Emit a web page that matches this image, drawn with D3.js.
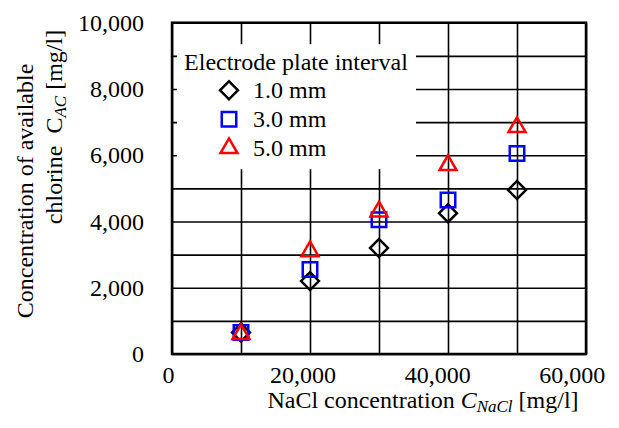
<!DOCTYPE html>
<html>
<head>
<meta charset="utf-8">
<script src="https://cdn.jsdelivr.net/npm/d3@7"></script>
<style>
  body { margin: 0; background: #fff; }
  text { font-family: "Liberation Serif", "Times New Roman", serif; }
</style>
</head>
<body>
<div id="chart"></div>
<script>
// data
const nacl = [10000, 20000, 30000, 40000, 50000];
const gap1mm = [650, 2200, 3200, 4250, 4950];
const gap3mm = [650, 2550, 4050, 4650, 6050];
const gap5mm = [600, 3100, 4300, 5700, 6850];
const seriesNames = ["1.0 mm", "3.0 mm", "5.0 mm"];
const xTicks = [0, 20000, 40000, 60000];
const yTicks = [0, 2000, 4000, 6000, 8000, 10000];

const W = 619, H = 428;
const margin = { top: 22.7, left: 172, right: 33, bottom: 74 };
const width = W - margin.left - margin.right;
const height = H - margin.top - margin.bottom;

const svg = d3.select("#chart").append("svg")
  .attr("width", W)
  .attr("height", H)
  .style("background-color", "#fff");

const g = svg.append("g")
  .attr("transform", `translate(${margin.left},${margin.top})`);

const x = d3.scaleLinear().domain([0, 60000]).range([0, width]);
const y = d3.scaleLinear().domain([0, 10000]).range([height, 0]);

// grid lines
g.append("g")
  .attr("class", "grid-y")
  .call(d3.axisLeft(y).tickValues(d3.range(0, 10001, 1000)).tickSize(-width).tickFormat(""))
  .call(s => s.select(".domain").remove())
  .selectAll("line").attr("stroke", "#000").attr("stroke-width", 1.6);

g.append("g")
  .attr("class", "grid-x")
  .attr("transform", `translate(0,${height})`)
  .call(d3.axisBottom(x).tickValues(d3.range(0, 60001, 10000)).tickSize(-height).tickFormat(""))
  .call(s => s.select(".domain").remove())
  .selectAll("line").attr("stroke", "#000").attr("stroke-width", 1.6);

// legend box hides the grid behind it
const lg = g.append("g").attr("transform", "translate(5,21.5)");
lg.append("rect")
  .attr("width", 239)
  .attr("height", 125)
  .attr("fill", "#fff");

// frame
g.append("rect")
  .attr("width", width)
  .attr("height", height)
  .attr("fill", "none")
  .attr("stroke", "#000")
  .attr("stroke-width", 2.5);

// tick labels
g.append("g")
  .call(d3.axisLeft(y).tickValues(yTicks).tickSize(0).tickPadding(28).tickFormat(d3.format(",")))
  .call(s => s.select(".domain").remove())
  .selectAll("text")
  .style("font-size", "24px")
  .style("font-family", "Liberation Serif")
  .attr("fill", "#000");

g.append("g")
  .attr("transform", `translate(0,${height})`)
  .call(d3.axisBottom(x).tickValues(xTicks).tickSize(0).tickPadding(12).tickFormat(d3.format(",")))
  .call(s => s.select(".domain").remove())
  .selectAll("text")
  .attr("dx", d => -4 - d * 0.00017)
  .style("font-size", "24px")
  .style("font-family", "Liberation Serif")
  .attr("fill", "#000");

// markers
const diamond = d3.symbol().type(d3.symbolSquare).size(160);
const square = d3.symbol().type(d3.symbolSquare).size(210);
const tri = d3.symbol().type(d3.symbolTriangle).size(125);

const series = [
  { name: seriesNames[0], values: gap1mm, color: "#000", sym: diamond, rot: 45 },
  { name: seriesNames[1], values: gap3mm, color: "#0000ff", sym: square, rot: 0 },
  { name: seriesNames[2], values: gap5mm, color: "#ff0000", sym: tri, rot: 0 }
];

series.forEach(s => {
  g.append("g").selectAll("path")
    .data(s.values)
    .enter()
    .append("path")
    .attr("d", s.sym)
    .attr("transform", (d, i) => `translate(${x(nacl[i])},${y(d)}) rotate(${s.rot})`)
    .attr("fill", "none")
    .attr("stroke", s.color)
    .attr("stroke-width", 2.5);
});

// legend content
lg.append("text")
  .attr("x", 119)
  .attr("y", 26)
  .attr("text-anchor", "middle")
  .style("font-size", "24px")
  .text("Electrode plate interval");

series.forEach((s, i) => {
  const row = lg.append("g").attr("transform", `translate(52,${46 + i * 29})`);
  row.append("path")
    .attr("d", s.sym)
    .attr("transform", `rotate(${s.rot})`)
    .attr("fill", "none")
    .attr("stroke", s.color)
    .attr("stroke-width", 2.5);
  row.append("text")
    .attr("x", 24)
    .attr("y", 8)
    .style("font-size", "24px")
    .text(s.name);
});

// axis titles
const xt = svg.append("text")
  .attr("x", 423)
  .attr("y", 408)
  .attr("text-anchor", "middle")
  .style("font-size", "24px");
xt.append("tspan").text("NaCl concentration ");
xt.append("tspan").style("font-style", "italic").text("C");
xt.append("tspan").style("font-style", "italic").style("font-size", "17px").attr("dy", 4).text("NaCl");
xt.append("tspan").attr("dy", -4).text(" [mg/l]");

svg.append("text")
  .attr("transform", "translate(33,191) rotate(-90)")
  .attr("text-anchor", "middle")
  .style("font-size", "24px")
  .text("Concentration of available");

const yt = svg.append("text")
  .attr("transform", "translate(62,127) rotate(-90)")
  .attr("text-anchor", "middle")
  .style("font-size", "24px")
  .style("white-space", "pre");
yt.append("tspan").text("chlorine  C");
yt.append("tspan").style("font-style", "italic").style("font-size", "17px").attr("dy", 4).text("AC");
yt.append("tspan").attr("dy", -4).text(" [mg/l]");
</script>
</body>
</html>
